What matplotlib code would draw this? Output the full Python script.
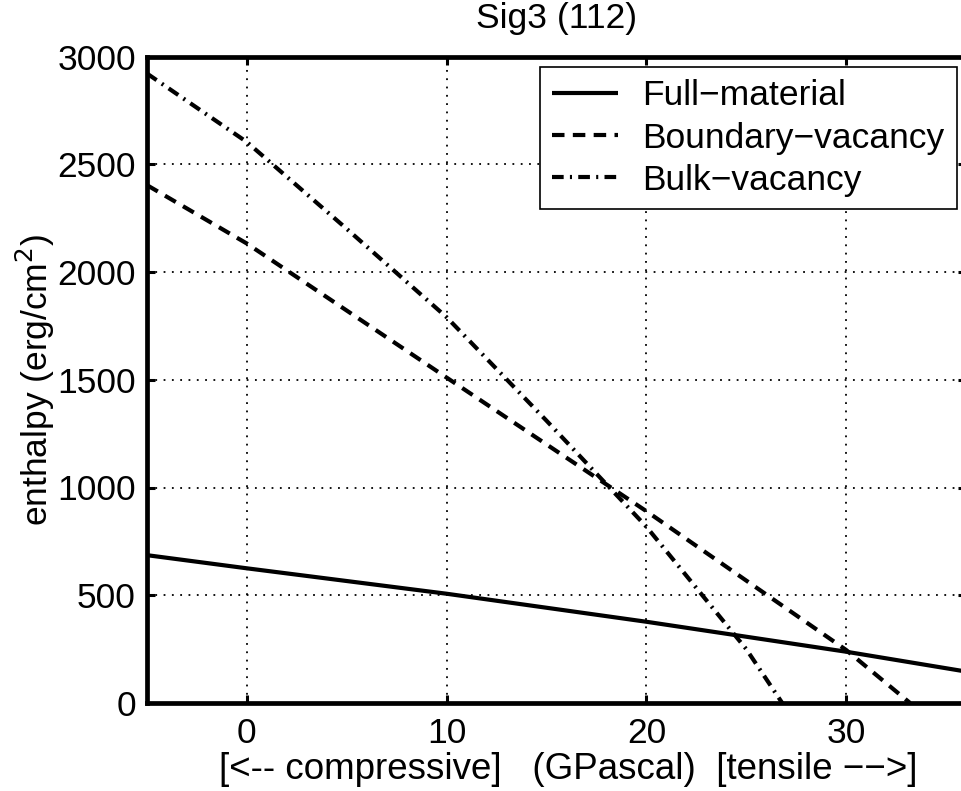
import matplotlib
matplotlib.use("Agg")
import matplotlib.pyplot as plt

plt.rcParams.update({
    "font.family": ["Liberation Sans", "DejaVu Sans"],
    "font.size": 25.5,
})

# stress (GPa) vs enthalpy (erg/cm^2)
full_x = [-5, 0, 10, 20, 30, 36]
full_y = [686, 625, 507, 377, 238, 146]

boundary_x = [-5, 0, 10, 20, 30, 33.2]
boundary_y = [2403, 2132, 1510, 890, 246, 0]

bulk_x = [-5, 0, 5, 10, 15, 20, 25, 26.8]
bulk_y = [2921, 2603, 2200, 1790, 1310, 818, 250, 0]

labels = ["Full\u2212material", "Boundary\u2212vacancy", "Bulk\u2212vacancy"]
xticks = [0, 10, 20, 30]
yticks = [0, 500, 1000, 1500, 2000, 2500, 3000]

W, H = 962, 791
fig = plt.figure(figsize=(W / 100, H / 100), dpi=100)
ax = fig.add_axes([147 / W, (H - 703) / H, (966 - 147) / W, (703 - 56.5) / H])

lw = 3.0
ax.plot(full_x, full_y, color="black", lw=lw, solid_capstyle="butt", label=labels[0])
ax.plot(boundary_x, boundary_y, color="black", lw=lw, dashes=(3.0, 2.0), label=labels[1])
ax.plot(bulk_x, bulk_y, color="black", lw=lw, dashes=(2.8, 1.5, 0.5, 1.5), label=labels[2])

ax.set_xlim(-5, 36)
ax.set_ylim(0, 3000)
ax.set_xticks(xticks)
ax.set_yticks(yticks)

ax.grid(True, color="black", lw=1.3, linestyle=(0, (1, 3.6)))
ax.tick_params(direction="in", length=5.5, width=2.2, top=True, right=True)
ax.tick_params(axis="x", pad=10)
ax.tick_params(axis="y", pad=8)
for s in ax.spines.values():
    s.set_linewidth(3.4)

ax.set_title("Sig3 (112)", fontsize=25.5, pad=20.5)
ax.set_ylabel("enthalpy (erg/cm$^2$)")
ax.yaxis.set_label_coords(-0.110, 0.5)
ax.set_xlabel("[<-- compressive]   (GPascal)  [tensile \u2212\u2212>]", fontsize=26.5)
ax.xaxis.set_label_coords(0.514, -0.0758)

leg = ax.legend(loc="upper right", bbox_to_anchor=(957 / W, (H - 67) / H),
                bbox_transform=fig.transFigure, borderaxespad=0,
                fancybox=False, framealpha=1, edgecolor="black",
                handlelength=1.85, handletextpad=0.7, labelspacing=0.26,
                borderpad=0.35)
leg.get_frame().set_linewidth(1.2)

fig.savefig("out.png", dpi=100)
